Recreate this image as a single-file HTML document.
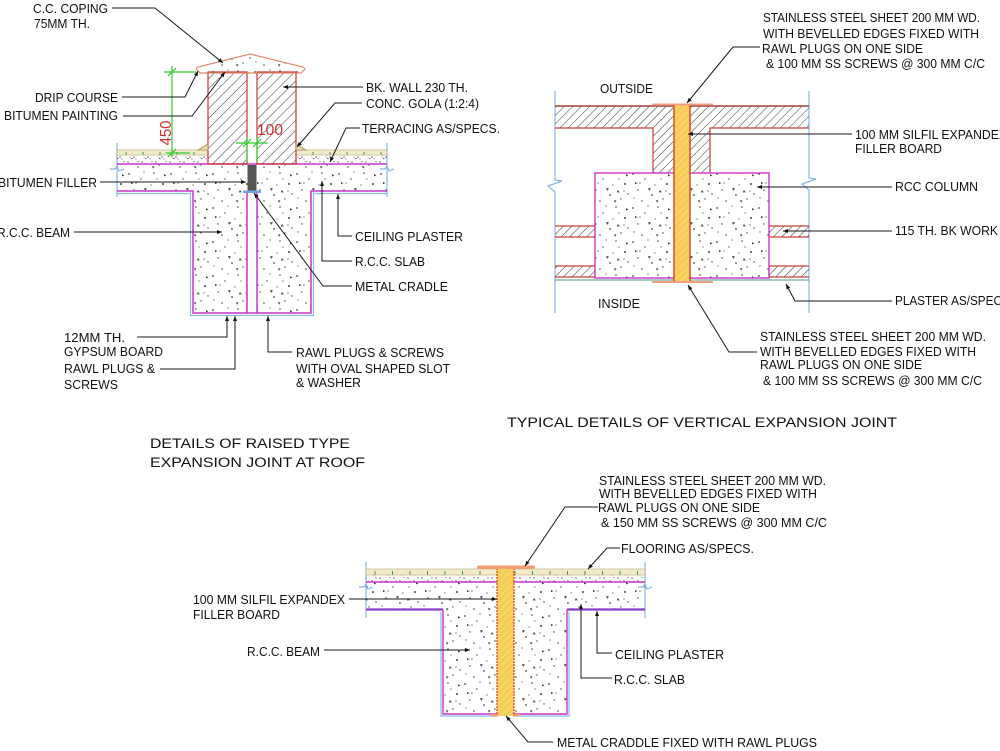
<!DOCTYPE html>
<html>
<head>
<meta charset="utf-8">
<style>
html,body{margin:0;padding:0;background:#fff;}
svg{display:block;}
text{font-family:"Liberation Sans",Arial,sans-serif;fill:#111;}
</style>
</head>
<body>
<svg width="1000" height="751" viewBox="0 0 1000 751" xmlns="http://www.w3.org/2000/svg">
<defs>
  <pattern id="hatch" width="7" height="7" patternUnits="userSpaceOnUse" patternTransform="rotate(45)">
    <line x1="0" y1="0" x2="0" y2="7" stroke="#222" stroke-width="0.9"/>
  </pattern>
  <pattern id="hatch2" width="6" height="6" patternUnits="userSpaceOnUse" patternTransform="rotate(45)">
    <line x1="0" y1="0" x2="0" y2="6" stroke="#222" stroke-width="0.9"/>
  </pattern>
  <pattern id="yel" width="5" height="5" patternUnits="userSpaceOnUse" patternTransform="rotate(45)">
    <rect width="5" height="5" fill="#f5cc55"/>
    <line x1="0" y1="0" x2="0" y2="5" stroke="#fbe8a6" stroke-width="1"/>
  </pattern>
  <pattern id="conc" width="42" height="34" patternUnits="userSpaceOnUse">
    <g fill="#444">
      <circle cx="3" cy="4" r="0.9"/><circle cx="15" cy="9" r="0.7"/><circle cx="28" cy="3" r="0.8"/>
      <circle cx="37" cy="14" r="1"/><circle cx="8" cy="20" r="0.7"/><circle cx="22" cy="25" r="0.9"/>
      <circle cx="33" cy="29" r="0.7"/><circle cx="12" cy="31" r="0.8"/><circle cx="25" cy="15" r="0.6"/>
      <circle cx="40" cy="24" r="0.7"/><circle cx="31" cy="9" r="0.6"/><circle cx="4" cy="28" r="0.6"/>
      <circle cx="18" cy="2" r="0.6"/><circle cx="36" cy="21" r="0.6"/><circle cx="10" cy="13" r="0.6"/>
      <path d="M18,18 l3,0.5 l-1.8,2.4z M5,12 l2.4,1 l-2.4,1.4z M30,20 l1.8,2.4 l-3,0z M38,4 l2.4,1.6 l-2.4,0.8z M26,30 l2.5,0.8 l-1.5,2z"/>
    </g>
  </pattern>
  <pattern id="speck" width="14" height="8" patternUnits="userSpaceOnUse">
    <g fill="#555">
      <circle cx="2" cy="2" r="0.7"/><circle cx="8" cy="5" r="0.7"/><circle cx="12" cy="1.5" r="0.6"/>
      <rect x="5" y="6" width="1.5" height="1"/>
    </g>
    <circle cx="10" cy="7" r="0.6" fill="#c050c0"/><circle cx="4" cy="5" r="0.5" fill="#c050c0"/>
  </pattern>
  <pattern id="tile1" x="117" y="150" width="17" height="6" patternUnits="userSpaceOnUse">
    <rect width="17" height="6" fill="#f1ebcc"/>
    <line x1="9" y1="2" x2="9" y2="6" stroke="#3c9a3c" stroke-width="1"/>
  </pattern>
  <pattern id="tile3" x="366" y="569" width="17.5" height="6" patternUnits="userSpaceOnUse">
    <rect width="17.5" height="6" fill="#f1ebcc"/>
    <line x1="9" y1="2" x2="9" y2="6" stroke="#3c9a3c" stroke-width="1"/>
  </pattern>
  <marker id="ar" viewBox="0 0 10 10" refX="10" refY="5" markerWidth="7" markerHeight="5" orient="auto" markerUnits="userSpaceOnUse">
    <path d="M0,1 L10,5 L0,9 z" fill="#111"/>
  </marker>
</defs>

<!-- ================= STRUCTURE 1 (top-left) ================= -->
<g stroke="#86b6e4" stroke-width="1.2" fill="none">
  <line x1="117" y1="143" x2="117" y2="197"/>
  <line x1="387" y1="143" x2="387" y2="197"/>
  <path d="M110,169 L115,169 L117,166 L119,171 L124,169"/>
  <path d="M380,169 L385,169 L387,166 L389,171 L394,169"/>
</g>
<rect x="117" y="150" width="91" height="5" fill="url(#tile1)" stroke="#b8a878" stroke-width="0.6"/>
<rect x="296" y="150" width="91" height="5" fill="url(#tile1)" stroke="#b8a878" stroke-width="0.6"/>
<rect x="117" y="155" width="91" height="9" fill="url(#speck)"/>
<rect x="296" y="155" width="91" height="9" fill="url(#speck)"/>
<rect x="117" y="164" width="270" height="27" fill="url(#conc)"/>
<rect x="193" y="191" width="118" height="122" fill="url(#conc)"/>
<rect x="247" y="191" width="10" height="122" fill="#fff"/>
<path d="M117,193.5 H190.5 V315.5 H313.5 V193.5 H387" fill="none" stroke="#88bbe8" stroke-width="1.2"/>
<g stroke="#cc33cc" stroke-width="1.5" fill="none">
  <line x1="117" y1="164" x2="387" y2="164"/>
  <path d="M117,191 H193 V313 H311 V191 H387"/>
  <line x1="247" y1="191" x2="247" y2="313"/>
  <line x1="257" y1="191" x2="257" y2="313"/>
</g>
<rect x="247.5" y="165" width="9" height="26" fill="#555"/>
<rect x="243" y="190.5" width="18" height="2.5" fill="#6fa8dc"/>
<rect x="208" y="72" width="39" height="92" fill="url(#hatch)" stroke="#cc3333" stroke-width="1.2"/>
<rect x="257" y="72" width="39" height="92" fill="url(#hatch)" stroke="#cc3333" stroke-width="1.2"/>
<path d="M198,150 L208,144 L208,150 Z" fill="#e9dcb0" stroke="#b08a5a" stroke-width="0.8"/>
<path d="M306,150 L296,144 L296,150 Z" fill="#e9dcb0" stroke="#b08a5a" stroke-width="0.8"/>
<polygon points="200,73 196,69 198,67 250,54 303,67 305,69 301,73" fill="url(#conc)" stroke="#e08a6a" stroke-width="1.2"/>
<g stroke="#2ecc2e" stroke-width="1.2" fill="none">
  <line x1="172" y1="66" x2="172" y2="157"/>
  <line x1="164" y1="72" x2="196" y2="72"/>
  <line x1="166" y1="153" x2="190" y2="153"/>
  <line x1="168" y1="76" x2="176" y2="68"/>
  <line x1="168" y1="157" x2="176" y2="149"/>
  <line x1="236" y1="143" x2="268" y2="143"/>
  <line x1="247" y1="137" x2="247" y2="162"/>
  <line x1="257" y1="137" x2="257" y2="162"/>
  <line x1="243" y1="147" x2="251" y2="139"/>
  <line x1="253" y1="147" x2="261" y2="139"/>
</g>
<text transform="translate(171,133) rotate(-90)" text-anchor="middle" font-size="16" style="fill:#d03030" textLength="25" lengthAdjust="spacingAndGlyphs">450</text>
<text x="257" y="135" font-size="16" style="fill:#d03030" textLength="26" lengthAdjust="spacingAndGlyphs">100</text>

<g stroke="#1a1a1a" stroke-width="1" fill="none" marker-end="url(#ar)">
  <path d="M112,8 H155 L223,63"/>
  <path d="M122,97 H185 L198,71"/>
  <path d="M123,116 H192 L225,72"/>
  <path d="M363,87 H283"/>
  <path d="M362,103 H335 L297,147"/>
  <path d="M360,128 H346 L330,162"/>
  <path d="M100,182 H246"/>
  <path d="M74,232 H222"/>
  <path d="M352,236 H338 V194"/>
  <path d="M352,261 H322 V181"/>
  <path d="M352,286 H323 L254,193"/>
  <path d="M137,337 H227 V316"/>
  <path d="M160,369 H235 V316"/>
  <path d="M292,352 H268 V316"/>
</g>

<g font-size="12.5">
  <text x="33" y="13" textLength="75" lengthAdjust="spacingAndGlyphs">C.C. COPING</text>
  <text x="34" y="28" textLength="56" lengthAdjust="spacingAndGlyphs">75MM TH.</text>
  <text x="35" y="102" textLength="83" lengthAdjust="spacingAndGlyphs">DRIP COURSE</text>
  <text x="4" y="120" textLength="114" lengthAdjust="spacingAndGlyphs">BITUMEN PAINTING</text>
  <text x="366" y="92" textLength="102" lengthAdjust="spacingAndGlyphs">BK. WALL 230 TH.</text>
  <text x="366" y="108" textLength="113" lengthAdjust="spacingAndGlyphs">CONC. GOLA (1:2:4)</text>
  <text x="362" y="133" textLength="138" lengthAdjust="spacingAndGlyphs">TERRACING AS/SPECS.</text>
  <text x="-2" y="187" textLength="99" lengthAdjust="spacingAndGlyphs">BITUMEN FILLER</text>
  <text x="-3" y="237" textLength="73" lengthAdjust="spacingAndGlyphs">R.C.C. BEAM</text>
  <text x="355" y="241" textLength="108" lengthAdjust="spacingAndGlyphs">CEILING PLASTER</text>
  <text x="355" y="266" textLength="70" lengthAdjust="spacingAndGlyphs">R.C.C. SLAB</text>
  <text x="355" y="291" textLength="93" lengthAdjust="spacingAndGlyphs">METAL CRADLE</text>
  <text x="64" y="342" textLength="61" lengthAdjust="spacingAndGlyphs">12MM TH.</text>
  <text x="64" y="356" textLength="99" lengthAdjust="spacingAndGlyphs">GYPSUM BOARD</text>
  <text x="64" y="373" textLength="91" lengthAdjust="spacingAndGlyphs">RAWL PLUGS &amp;</text>
  <text x="64" y="389" textLength="54" lengthAdjust="spacingAndGlyphs">SCREWS</text>
  <text x="296" y="357" textLength="148" lengthAdjust="spacingAndGlyphs">RAWL PLUGS &amp; SCREWS</text>
  <text x="296" y="373" textLength="154" lengthAdjust="spacingAndGlyphs">WITH OVAL SHAPED SLOT</text>
  <text x="296" y="387" textLength="65" lengthAdjust="spacingAndGlyphs">&amp; WASHER</text>
</g>
<g font-size="13.5">
  <text x="150" y="448" textLength="200" lengthAdjust="spacingAndGlyphs">DETAILS OF RAISED TYPE</text>
  <text x="150" y="467" textLength="215" lengthAdjust="spacingAndGlyphs">EXPANSION JOINT AT ROOF</text>
  <text x="507" y="427" textLength="390" lengthAdjust="spacingAndGlyphs">TYPICAL DETAILS OF VERTICAL EXPANSION JOINT</text>
</g>

<!-- ================= STRUCTURE 2 (top-right) ================= -->
<g stroke="#86b6e4" stroke-width="1.2" fill="none">
  <path d="M555,91 V180 L562,181 L548,186 L555,192 V313"/>
  <path d="M809,91 V178 L816,179 L802,184 L809,190 V313"/>
</g>
<path d="M555,106 H809 V128 H710 V173 H653 V128 H555 Z" fill="url(#hatch2)"/>
<path d="M555,128 H653 V173 M710,173 V128 H809" fill="none" stroke="#c83c3c" stroke-width="1.2"/>
<line x1="555" y1="106" x2="809" y2="106" stroke="#a0403a" stroke-width="1.6"/>
<rect x="595" y="173" width="174" height="105" fill="url(#conc)" stroke="#cc33cc" stroke-width="1.4"/>
<g fill="url(#hatch2)" stroke="none">
  <rect x="555" y="226" width="40" height="11"/>
  <rect x="555" y="266" width="40" height="11"/>
  <rect x="769" y="226" width="40" height="11"/>
  <rect x="769" y="266" width="40" height="11"/>
</g>
<g stroke="#c83c3c" stroke-width="1.2">
  <line x1="555" y1="226" x2="595" y2="226"/><line x1="555" y1="237" x2="595" y2="237"/>
  <line x1="555" y1="266" x2="595" y2="266"/><line x1="555" y1="277" x2="595" y2="277"/>
  <line x1="769" y1="226" x2="809" y2="226"/><line x1="769" y1="237" x2="809" y2="237"/>
  <line x1="769" y1="266" x2="809" y2="266"/><line x1="769" y1="277" x2="809" y2="277"/>
</g>
<line x1="555" y1="280" x2="809" y2="280" stroke="#4f9484" stroke-width="1.1"/>
<rect x="674" y="104" width="16" height="179" fill="url(#yel)"/>
<line x1="674" y1="104" x2="674" y2="283" stroke="#e04a1a" stroke-width="1.5"/>
<line x1="690" y1="104" x2="690" y2="283" stroke="#e04a1a" stroke-width="1.5"/>
<line x1="652" y1="104.5" x2="713" y2="104.5" stroke="#f0a080" stroke-width="2"/>
<line x1="652" y1="282" x2="713" y2="282" stroke="#f0a080" stroke-width="2"/>

<g stroke="#1a1a1a" stroke-width="1" fill="none" marker-end="url(#ar)">
  <path d="M760,47 H733 L687,103"/>
  <path d="M852,134 H688"/>
  <path d="M892,187 H757"/>
  <path d="M892,231 H783"/>
  <path d="M892,301 H795 L786,284"/>
  <path d="M757,352 H729 L688,285"/>
</g>
<g font-size="12.5">
  <text x="763" y="22" textLength="217" lengthAdjust="spacingAndGlyphs">STAINLESS STEEL SHEET 200 MM WD.</text>
  <text x="763" y="38" textLength="216" lengthAdjust="spacingAndGlyphs">WITH BEVELLED EDGES FIXED WITH</text>
  <text x="762" y="53" textLength="161" lengthAdjust="spacingAndGlyphs">RAWL PLUGS ON ONE SIDE</text>
  <text x="766" y="68" textLength="219" lengthAdjust="spacingAndGlyphs">&amp; 100 MM SS SCREWS @ 300 MM C/C</text>
  <text x="600" y="93" textLength="53" lengthAdjust="spacingAndGlyphs">OUTSIDE</text>
  <text x="855" y="139" textLength="152" lengthAdjust="spacingAndGlyphs">100 MM SILFIL EXPANDEX</text>
  <text x="855" y="153" textLength="87" lengthAdjust="spacingAndGlyphs">FILLER BOARD</text>
  <text x="895" y="191" textLength="83" lengthAdjust="spacingAndGlyphs">RCC COLUMN</text>
  <text x="895" y="235" textLength="103" lengthAdjust="spacingAndGlyphs">115 TH. BK WORK</text>
  <text x="895" y="305" textLength="118" lengthAdjust="spacingAndGlyphs">PLASTER AS/SPECS.</text>
  <text x="598" y="308" textLength="42" lengthAdjust="spacingAndGlyphs">INSIDE</text>
  <text x="760" y="341" textLength="226" lengthAdjust="spacingAndGlyphs">STAINLESS STEEL SHEET 200 MM WD.</text>
  <text x="760" y="356" textLength="216" lengthAdjust="spacingAndGlyphs">WITH BEVELLED EDGES FIXED WITH</text>
  <text x="760" y="369" textLength="162" lengthAdjust="spacingAndGlyphs">RAWL PLUGS ON ONE SIDE</text>
  <text x="763" y="385" textLength="219" lengthAdjust="spacingAndGlyphs">&amp; 100 MM SS SCREWS @ 300 MM C/C</text>
</g>

<!-- ================= STRUCTURE 3 (bottom) ================= -->
<g stroke="#86b6e4" stroke-width="1.2" fill="none">
  <line x1="366" y1="562" x2="366" y2="618"/>
  <line x1="645" y1="562" x2="645" y2="618"/>
  <path d="M359,587 L364,587 L366,584 L368,589 L373,587"/>
  <path d="M638,587 L643,587 L645,584 L647,589 L652,587"/>
</g>
<rect x="366" y="569" width="279" height="6" fill="url(#tile3)" stroke="#b8a878" stroke-width="0.6"/>
<rect x="366" y="575" width="279" height="7" fill="url(#speck)"/>
<line x1="366" y1="582" x2="645" y2="582" stroke="#cc33cc" stroke-width="1.4"/>
<rect x="366" y="582.5" width="279" height="27" fill="url(#conc)"/>
<rect x="443" y="609" width="124" height="105" fill="url(#conc)"/>
<path d="M441,612 V716 H497 M514,716 H569 V612" fill="none" stroke="#88bbe8" stroke-width="1.2"/>
<path d="M366,609.5 H443 M567,609.5 H645" fill="none" stroke="#8a3cc8" stroke-width="2.2"/>
<path d="M443,609.5 V714 H497 M514,714 H567 V609.5" fill="none" stroke="#cc33cc" stroke-width="1.4"/>
<rect x="497" y="568" width="17" height="148" fill="url(#yel)"/>
<line x1="497" y1="568" x2="497" y2="716" stroke="#e04a1a" stroke-width="1.3" stroke-dasharray="2,1"/>
<line x1="514" y1="568" x2="514" y2="716" stroke="#e04a1a" stroke-width="1.3" stroke-dasharray="2,1"/>
<rect x="477" y="565.5" width="58" height="3.5" rx="1.5" fill="#f0a070"/>
<rect x="491" y="714" width="7" height="2.5" fill="#f0a070"/>
<rect x="513" y="714" width="7" height="2.5" fill="#f0a070"/>

<g stroke="#1a1a1a" stroke-width="1" fill="none" marker-end="url(#ar)">
  <path d="M598,507 H565 L525,566"/>
  <path d="M620,548 H607 L588,569"/>
  <path d="M349,599 H497"/>
  <path d="M324,650 H470"/>
  <path d="M612,653 H597 V611"/>
  <path d="M612,678 H581 V604"/>
  <path d="M553,742 H528 L506,716"/>
</g>
<g font-size="12.5">
  <text x="599" y="485" textLength="227" lengthAdjust="spacingAndGlyphs">STAINLESS STEEL SHEET 200 MM WD.</text>
  <text x="599" y="498" textLength="218" lengthAdjust="spacingAndGlyphs">WITH BEVELLED EDGES FIXED WITH</text>
  <text x="598" y="512" textLength="162" lengthAdjust="spacingAndGlyphs">RAWL PLUGS ON ONE SIDE</text>
  <text x="601" y="527" textLength="226" lengthAdjust="spacingAndGlyphs">&amp; 150 MM SS SCREWS @ 300 MM C/C</text>
  <text x="621" y="553" textLength="133" lengthAdjust="spacingAndGlyphs">FLOORING AS/SPECS.</text>
  <text x="193" y="604" textLength="152" lengthAdjust="spacingAndGlyphs">100 MM SILFIL EXPANDEX</text>
  <text x="193" y="619" textLength="87" lengthAdjust="spacingAndGlyphs">FILLER BOARD</text>
  <text x="247" y="656" textLength="73" lengthAdjust="spacingAndGlyphs">R.C.C. BEAM</text>
  <text x="615" y="659" textLength="109" lengthAdjust="spacingAndGlyphs">CEILING PLASTER</text>
  <text x="614" y="684" textLength="71" lengthAdjust="spacingAndGlyphs">R.C.C. SLAB</text>
  <text x="557" y="747" textLength="260" lengthAdjust="spacingAndGlyphs">METAL CRADDLE FIXED WITH RAWL PLUGS</text>
</g>
</svg>
</body>
</html>
